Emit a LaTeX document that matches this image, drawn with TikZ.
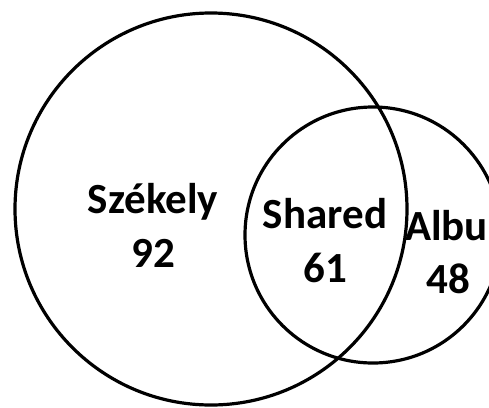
\documentclass[tikz,border=0pt]{standalone}
\usepackage{fontspec}
\setmainfont{Carlito}
\begin{document}
\begin{tikzpicture}[x=1pt,y=-1pt,
  ring/.style={draw, line width=3.2pt},
  lbl/.style={font=\bfseries\fontsize{43}{50}\selectfont, inner sep=0pt, anchor=base}]
\useasboundingbox (0,0) rectangle (489,407);
\clip (0,0) rectangle (489,407);

\draw[ring] (211,209) circle (196pt);
\draw[ring] (373,235) circle (128pt);

\node[lbl] (szekely) at (153,213){Sz\'ekely};
\node[lbl] (szekelyN) at (153,267){92};

\node[lbl] (shared) at (325,228){Shared};
\node[lbl] (sharedN) at (325,282){61};

\node[lbl, anchor=base east] (albu) at (488,240){Albu};
\node[lbl] (albuN) at (448,293){48};

\end{tikzpicture}
\end{document}
